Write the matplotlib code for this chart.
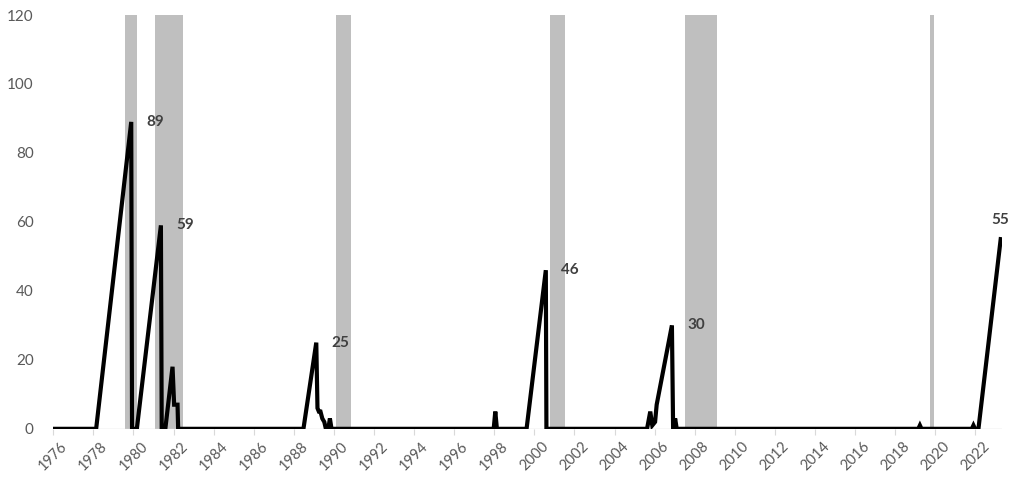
import numpy as np
import matplotlib
matplotlib.use("Agg")
from matplotlib import pyplot as plt

# decimal-year dates and values (zero stretches implied)
dates = [1976.0, 1978.14, 1979.89, 1979.93, 1980.17, 1981.37, 1981.41, 1981.59,
         1981.95, 1982.03, 1982.2, 1982.23,
         1988.48, 1989.12, 1989.18, 1989.25, 1989.33, 1989.42, 1989.52, 1989.6,
         1989.72, 1989.8, 1989.88,
         1997.97, 1998.05, 1998.13,
         1999.61, 2000.57, 2000.6,
         2005.62, 2005.78, 2005.88, 2006.02, 2006.1, 2006.86, 2006.92, 2006.97,
         2007.02, 2007.1,
         2019.15, 2019.23, 2019.31,
         2021.82, 2021.9, 2021.98, 2022.15, 2023.26]
values = [0, 0, 89, 0, 0, 59, 0, 0,
          18, 7, 7, 0,
          0, 25, 6, 5, 5, 3, 2, 0,
          0, 3, 0,
          0, 5, 0,
          0, 46, 0,
          0, 5, 1, 2, 7, 30, 0, 0,
          3, 0,
          0, 1, 0,
          0, 1, 0, 0, 55]

# shaded recession periods (start, end) in axis years
rec_start = [1979.6, 1981.08, 1990.11, 2000.77, 2007.52, 2019.75]
rec_end = [1980.2, 1982.47, 1990.86, 2001.52, 2009.10, 2019.93]

# labelled peaks
peak_dates = [1979.89, 1981.37, 1989.12, 2000.57, 2006.86]
peak_vals = [89, 59, 25, 46, 30]
last_date, last_val = 2023.26, 55

years = list(range(1976, 2023, 2))
yticks = [0, 20, 40, 60, 80, 100, 120]

plt.rcParams['font.family'] = ['Lato', 'DejaVu Sans']

fig = plt.figure(figsize=(10.24, 4.84), dpi=100)
ax = fig.add_axes([0.052, 0.114, 0.927, 0.855])

for s, e in zip(rec_start, rec_end):
    ax.axvspan(s, e, color='#bfbfbf', lw=0, zorder=1)

ax.axhline(0, color='#d9d9d9', lw=1, zorder=2)
ax.plot(dates, values, color='black', lw=3.0, solid_joinstyle='miter', zorder=3)

for d, v in zip(peak_dates, peak_vals):
    ax.text(d + 1.2, v, str(v), ha='center', va='center', fontsize=11,
            fontweight='bold', color='#404040', zorder=4)
ax.text(last_date - 0.05, last_val + 5.5, str(last_val), ha='center', va='center',
        fontsize=11, fontweight='bold', color='#404040', zorder=4)

ax.set_xlim(1976, 2023.35)
ax.set_ylim(0, 120)
ax.set_xticks(years)
ax.set_xticklabels([str(y) for y in years], rotation=45, ha='center')
ax.set_yticks(yticks)
ax.tick_params(axis='x', colors='#d9d9d9', labelcolor='#595959', labelsize=10.5,
               length=4, direction='out')
ax.tick_params(axis='y', length=0, labelcolor='#595959', labelsize=11, pad=14)
for sp in ax.spines.values():
    sp.set_visible(False)

fig.savefig('out.png', dpi=100)
